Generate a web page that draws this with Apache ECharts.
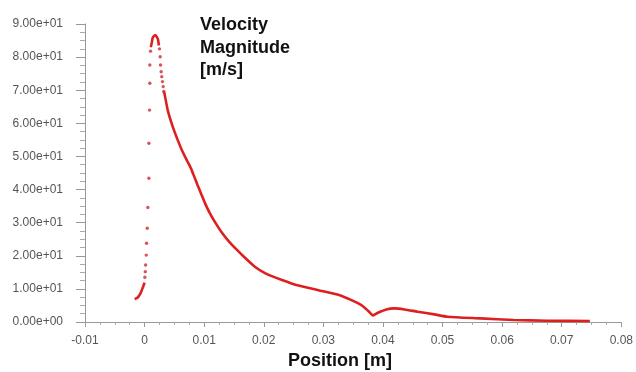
<!DOCTYPE html>
<html>
<head>
<meta charset="utf-8">
<script src="https://cdn.jsdelivr.net/npm/echarts@6/dist/echarts.min.js"></script>
<style>
html,body{margin:0;padding:0;background:#fff;}
#chart{width:636px;height:372px;}
</style>
</head>
<body>
<div id="chart"></div>
<script>
// Position [m] ticks and Velocity Magnitude [m/s] ticks
const xTicks = [-0.01, 0, 0.01, 0.02, 0.03, 0.04, 0.05, 0.06, 0.07, 0.08];
const yTicks = [0, 10, 20, 30, 40, 50, 60, 70, 80, 90];

// dense start of the curve
const preX = [-0.00167, -0.0014, -0.0011, -0.00067, -0.00028, 0.0];
const preV = [6.9, 7.1, 7.5, 8.7, 10.5, 11.9];

// sparse dots on the steep rise and the first part of the descent
const dotX = [0.00005, 0.00012, 0.00017, 0.00028, 0.00033, 0.00045, 0.00055, 0.00072, 0.00072, 0.00083, 0.00088, 0.00088, 0.001,
              0.0025, 0.00262, 0.00267, 0.00278, 0.00288, 0.003, 0.00312, 0.00322];
const dotV = [13.5, 15.2, 17.2, 20.2, 23.8, 28.3, 34.6, 43.4, 54.0, 64.0, 72.1, 77.6, 81.8,
              82.5, 80.1, 77.6, 75.6, 74.1, 72.6, 71.1, 69.6];

// dense arc at the peak
const peakX = [0.00105, 0.00122, 0.00138, 0.00178, 0.00222, 0.0024];
const peakV = [83.0, 84.5, 85.9, 86.7, 85.5, 83.5];

// dense descending tail
const tailX = [0.00322, 0.00333, 0.00388, 0.00472, 0.00555, 0.00638, 0.00722, 0.00778, 0.00833, 0.00888, 0.00945,
               0.01028, 0.01112, 0.01195, 0.01305, 0.01417, 0.01555, 0.01667, 0.0185, 0.02028, 0.02305, 0.02583, 0.02917,
               0.0325, 0.03472, 0.03638, 0.0375, 0.03833, 0.03917, 0.04055, 0.04195, 0.04362, 0.04583, 0.04862,
               0.05083, 0.05638, 0.06195, 0.0675, 0.07472];
const tailV = [69.6, 69.1, 64.0, 59.0, 55.0, 51.4, 48.4, 46.4, 43.9, 41.4, 38.9,
               35.3, 32.3, 29.8, 26.8, 24.3, 21.7, 19.7, 16.7, 14.7, 12.7, 11.0, 9.6,
               8.2, 6.6, 5.1, 3.4, 2.0, 2.8, 3.8, 4.1, 3.8, 3.1, 2.3,
               1.6, 1.1, 0.6, 0.4, 0.3];

const red = '#de1f1f';
const zip = (xs, ys) => xs.map((x, i) => [x, ys[i]]);

function expFmt(v) {
  return v.toExponential(2).replace(/e([+-])(\d)$/, 'e$10$2');
}

const lineSeries = (xs, ys) => ({
  type: 'line', data: zip(xs, ys), showSymbol: false, symbol: 'none',
  lineStyle: { color: red, width: 2.6 }, smooth: 0.2, animation: false, z: 3
});

const chart = echarts.init(document.getElementById('chart'), null, { renderer: 'canvas' });
chart.setOption({
  backgroundColor: '#ffffff',
  animation: false,
  grid: { left: 85, right: 11, top: 24, bottom: 50, containLabel: false },
  xAxis: {
    type: 'value', min: xTicks[0], max: xTicks[xTicks.length - 1], interval: 0.01,
    axisLine: { show: true, onZero: false, lineStyle: { color: '#999', width: 1 } },
    axisTick: { show: true, length: 5, lineStyle: { color: '#999' } },
    minorTick: { show: true, splitNumber: 4, length: 3, lineStyle: { color: '#aaa' } },
    splitLine: { show: false },
    axisLabel: { color: '#555', fontSize: 12, fontFamily: 'Liberation Sans, Arial, sans-serif', margin: 13,
                 formatter: v => String(+v.toFixed(2)) }
  },
  yAxis: {
    type: 'value', min: yTicks[0], max: yTicks[yTicks.length - 1], interval: 10,
    axisLine: { show: true, onZero: false, lineStyle: { color: '#999', width: 1 } },
    axisTick: { show: true, length: 9, lineStyle: { color: '#999' } },
    minorTick: { show: true, splitNumber: 4, length: 5, lineStyle: { color: '#aaa' } },
    splitLine: { show: false },
    axisLabel: { color: '#555', fontSize: 12, fontFamily: 'Liberation Sans, Arial, sans-serif', margin: 22,
                 formatter: v => expFmt(v) }
  },
  graphic: [
    { type: 'text', left: 200, top: 14,
      style: { text: 'Velocity\nMagnitude\n[m/s]', fill: '#111', font: 'bold 18px "Liberation Sans", Arial, sans-serif', lineHeight: 22.5 } },
    { type: 'text', left: 288, top: 352,
      style: { text: 'Position [m]', fill: '#111', font: 'bold 18px "Liberation Sans", Arial, sans-serif' } }
  ],
  series: [
    lineSeries(preX, preV),
    lineSeries(peakX, peakV),
    lineSeries(tailX, tailV),
    { type: 'scatter', data: zip(dotX, dotV), symbol: 'circle', symbolSize: 3.4,
      itemStyle: { color: '#d02832' }, animation: false, z: 4 }
  ]
});
</script>
</body>
</html>
